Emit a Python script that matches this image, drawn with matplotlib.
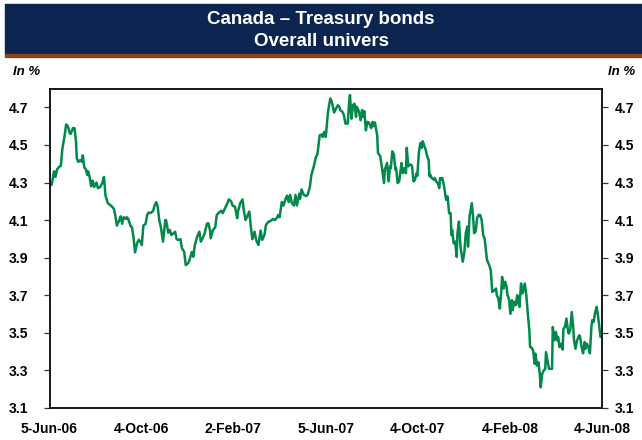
import datetime as dt
import matplotlib
matplotlib.use("Agg")
import matplotlib.pyplot as plt
from matplotlib.patches import Rectangle

# ---- data ----
start_date = "2006-06-05"
end_date = "2008-06-04"
day_offsets = [
    0, 3, 6, 8, 10, 12, 15, 17, 20, 22, 24, 25, 27, 28, 31, 33, 35, 36, 38, 41,
    43, 44, 46, 48, 50, 51, 53, 55, 57, 59, 62, 64, 67, 70, 72, 74, 77, 80, 82, 85,
    87, 89, 92, 94, 96, 98, 101, 102, 104, 107, 109, 111, 113, 116, 118, 120, 122, 124, 127, 129,
    131, 134, 137, 139, 141, 143, 145, 147, 150, 153, 154, 157, 159, 161, 164, 166, 168, 170, 173, 175,
    178, 180, 183, 185, 188, 190, 192, 195, 198, 200, 203, 205, 208, 210, 212, 213, 216, 219, 221, 224,
    227, 229, 232, 235, 237, 240, 242, 245, 248, 249, 252, 255, 257, 259, 262, 264, 266, 268, 271, 273,
    276, 279, 281, 284, 286, 289, 293, 295, 298, 301, 302, 304, 307, 309, 312, 314, 316, 318, 320, 323,
    325, 327, 330, 331, 333, 336, 339, 341, 344, 346, 349, 352, 354, 357, 360, 361, 363, 365, 367, 368,
    371, 373, 376, 378, 381, 383, 384, 387, 389, 391, 394, 396, 397, 399, 401, 403, 405, 406, 409, 411,
    413, 414, 416, 418, 420, 422, 425, 427, 428, 430, 433, 434, 437, 439, 442, 443, 446, 448, 450, 451,
    453, 455, 457, 458, 460, 462, 464, 465, 467, 469, 471, 472, 474, 476, 478, 479, 481, 483, 485, 486,
    488, 490, 492, 493, 495, 497, 499, 501, 502, 503, 505, 508, 509, 511, 513, 515, 516, 517, 519, 521,
    523, 524, 526, 528, 530, 531, 532, 534, 536, 538, 539, 541, 543, 545, 546, 548, 550, 552, 553, 555,
    558, 560, 561, 563, 565, 567, 569, 571, 573, 575, 578, 581, 583, 585, 588, 590, 591, 593, 595, 597,
    598, 600, 602, 604, 605, 607, 609, 611, 612, 614, 616, 618, 619, 621, 623, 625, 627, 628, 630, 632,
    634, 635, 637, 639, 641, 642, 644, 646, 648, 649, 651, 653, 655, 656, 658, 660, 662, 664, 665, 667,
    669, 671, 672, 674, 676, 678, 679, 681, 683, 685, 686, 688, 690, 692, 693, 695, 697, 700, 701, 703,
    705, 707, 708, 710, 712, 714, 716, 717, 719, 721, 723, 724, 726, 728, 730,
]
yields = [
    4.28, 4.29, 4.36, 4.33, 4.37, 4.38, 4.39, 4.48, 4.55, 4.61, 4.60, 4.59, 4.56, 4.56, 4.59, 4.59, 4.52, 4.43, 4.41, 4.42,
    4.41, 4.445, 4.38, 4.37, 4.34, 4.36, 4.33, 4.28, 4.31, 4.276, 4.30, 4.27, 4.276, 4.30, 4.33, 4.23, 4.19, 4.18, 4.174, 4.16,
    4.124, 4.07, 4.097, 4.12, 4.08, 4.115, 4.106, 4.115, 4.106, 4.07, 4.06, 4.008, 3.928, 3.98, 3.995, 3.985, 3.967, 4.07, 4.08, 4.127,
    4.14, 4.138, 4.15, 4.18, 4.196, 4.17, 4.10, 4.065, 3.985, 4.10, 4.10, 4.033, 4.047, 4.02, 4.03, 4.038, 3.998, 3.994, 3.998, 3.95,
    3.93, 3.86, 3.869, 3.887, 3.93, 3.904, 3.967, 4.01, 4.038, 3.985, 4.008, 4.03, 4.08, 4.083, 4.047, 4.003, 4.047, 4.062, 4.127, 4.14,
    4.15, 4.137, 4.163, 4.19, 4.21, 4.20, 4.176, 4.172, 4.11, 4.145, 4.19, 4.21, 4.145, 4.10, 4.127, 4.145, 4.065, 3.998, 4.038, 3.994,
    3.967, 4.044, 3.994, 4.02, 4.074, 4.09, 4.097, 4.106, 4.10, 4.115, 4.127, 4.115, 4.196, 4.177, 4.213, 4.23, 4.196, 4.234, 4.192, 4.178,
    4.234, 4.178, 4.24, 4.213, 4.263, 4.234, 4.228, 4.234, 4.276, 4.34, 4.383, 4.436, 4.45, 4.552, 4.556, 4.543, 4.57, 4.543, 4.632, 4.677,
    4.748, 4.73, 4.673, 4.69, 4.712, 4.704, 4.686, 4.677, 4.659, 4.614, 4.614, 4.73, 4.766, 4.64, 4.712, 4.72, 4.65, 4.704, 4.677, 4.632,
    4.686, 4.65, 4.68, 4.578, 4.623, 4.62, 4.59, 4.623, 4.60, 4.62, 4.55, 4.458, 4.44, 4.386, 4.297, 4.368, 4.404, 4.306, 4.386, 4.377,
    4.466, 4.45, 4.368, 4.377, 4.297, 4.306, 4.368, 4.404, 4.35, 4.377, 4.35, 4.485, 4.386, 4.395, 4.395, 4.386, 4.306, 4.315, 4.35, 4.336,
    4.458, 4.51, 4.485, 4.52, 4.50, 4.475, 4.44, 4.42, 4.333, 4.342, 4.324, 4.315, 4.324, 4.306, 4.297, 4.27, 4.324, 4.315, 4.324, 4.288,
    4.235, 4.208, 4.226, 4.137, 4.137, 4.02, 4.048, 3.976, 3.985, 3.904, 4.03, 4.092, 3.958, 3.904, 3.878, 3.923, 4.03, 4.065, 3.958, 4.12,
    4.19, 4.10, 4.03, 4.038, 4.11, 4.127, 4.127, 4.10, 4.02, 4.00, 3.887, 3.86, 3.833, 3.717, 3.726, 3.735, 3.70, 3.682, 3.628, 3.726,
    3.797, 3.735, 3.771, 3.744, 3.70, 3.682, 3.60, 3.673, 3.62, 3.664, 3.646, 3.70, 3.664, 3.637, 3.762, 3.709, 3.744, 3.762, 3.70, 3.60,
    3.512, 3.423, 3.42, 3.405, 3.334, 3.388, 3.325, 3.343, 3.271, 3.209, 3.281, 3.298, 3.307, 3.396, 3.352, 3.307, 3.307, 3.307, 3.53, 3.459,
    3.504, 3.459, 3.477, 3.423, 3.441, 3.41, 3.52, 3.53, 3.575, 3.512, 3.495, 3.512, 3.61, 3.53, 3.459, 3.414, 3.459, 3.486, 3.477, 3.423,
    3.39, 3.45, 3.414, 3.441, 3.423, 3.39, 3.53, 3.566, 3.557, 3.61, 3.637, 3.61, 3.548, 3.477, 3.48,
]
tick_dates = ["2006-06-05", "2006-10-04", "2007-02-02", "2007-06-05",
              "2007-10-04", "2008-02-04", "2008-06-04"]
tick_labels = ["5-Jun-06", "4-Oct-06", "2-Feb-07", "5-Jun-07",
               "4-Oct-07", "4-Feb-08", "4-Jun-08"]
y_ticks = [3.1, 3.3, 3.5, 3.7, 3.9, 4.1, 4.3, 4.5, 4.7]
title_lines = ["Canada \u2013 Treasury bonds", "Overall univers"]
unit_label = "In %"

# ---- figure ----
FONT = ["Liberation Sans", "DejaVu Sans"]
plt.rcParams["font.family"] = FONT
W, H = 642, 440
fig = plt.figure(figsize=(W / 100, H / 100), dpi=100)

navy = "#0b2550"
brown = "#8a4513"
green = "#00894a"

fig.patches.append(Rectangle((5 / W, 1 - 54 / H), 1 - 5 / W, 50 / H,
                             transform=fig.transFigure, color=navy, zorder=0))
fig.patches.append(Rectangle((5 / W, 1 - 57.5 / H), 1 - 5 / W, 3.5 / H,
                             transform=fig.transFigure, color=brown, zorder=0))
fig.text(321 / W, 1 - 20 / H, title_lines[0], color="white", fontsize=13.5,
         fontweight="bold", ha="center", va="center")
fig.text(321 / W, 1 - 42 / H, title_lines[1], color="white", fontsize=13.5,
         fontweight="bold", ha="center", va="center")
fig.text(13 / W, 1 - 72 / H, unit_label, fontsize=9.5, fontweight="bold",
         fontstyle="italic", ha="left", va="center")
fig.text(635 / W, 1 - 72 / H, unit_label, fontsize=9.5, fontweight="bold",
         fontstyle="italic", ha="right", va="center")

left, right = 49.5 / W, 602 / W
bottom, top = 1 - 407.7 / H, 1 - 88.7 / H
ax = fig.add_axes([left, bottom, right - left, top - bottom])

t0 = dt.datetime.strptime(start_date, "%Y-%m-%d")
t1 = dt.datetime.strptime(end_date, "%Y-%m-%d")
dates = [t0 + dt.timedelta(days=d) for d in day_offsets]
ax.plot(dates, yields, color=green, lw=1.8, solid_joinstyle="round")

ax.set_xlim(t0, t1)
ax.set_ylim(3.1, 4.8)
ax.set_xticks([dt.datetime.strptime(s, "%Y-%m-%d") for s in tick_dates])
ax.set_xticklabels(tick_labels)
ax.set_yticks(y_ticks)
ax.set_yticklabels([f"{v:.1f}" for v in y_ticks])

for s in ax.spines.values():
    s.set_linewidth(1.1)
    s.set_color("#111111")

ax.tick_params(axis="x", length=0, pad=10, labelsize=10)
ax.tick_params(axis="y", direction="out", length=4.5, width=0.9,
               color="#333333", pad=11, labelsize=10)
for lab in ax.get_xticklabels() + ax.get_yticklabels():
    lab.set_fontweight("bold")

ax2 = ax.twinx()
ax2.set_ylim(ax.get_ylim())
ax2.set_yticks(y_ticks)
ax2.set_yticklabels([f"{v:.1f}" for v in y_ticks])
ax2.tick_params(axis="y", direction="out", length=4.5, width=0.9,
                color="#333333", pad=5, labelsize=10)
for lab in ax2.get_yticklabels():
    lab.set_fontweight("bold")
for s in ax2.spines.values():
    s.set_linewidth(1.1)
    s.set_color("#111111")

fig.savefig("out.png", dpi=100)
